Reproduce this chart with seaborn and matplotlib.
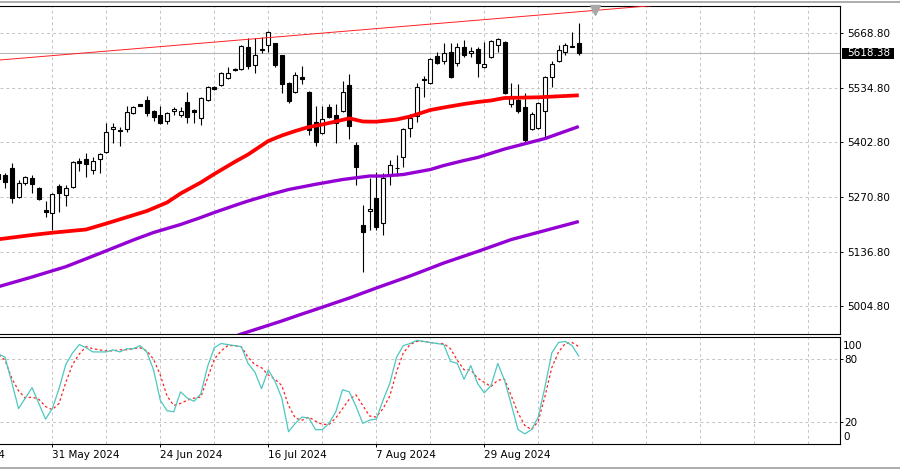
import numpy as np
import pandas as pd
import matplotlib
matplotlib.use("Agg")
import matplotlib.pyplot as plt
from matplotlib.patches import Rectangle
from matplotlib.lines import Line2D
import seaborn as sns

# ---------------- data ----------------
opens = [5325.5, 5321.9, 5340.1, 5269.6, 5303.6, 5315.8, 5291.5, 5238.0, 5230.8, 5296.3,
         5274.5, 5293.9, 5357.1, 5361.9, 5335.2, 5361.9, 5379.0, 5434.8, 5433.6, 5434.8,
         5473.7, 5494.4, 5505.3, 5478.6, 5468.9, 5454.3, 5478.6, 5468.9, 5500.4, 5481.0,
         5461.6, 5505.3, 5535.7, 5541.7, 5558.7, 5581.8, 5580.6, 5634.1, 5590.3, 5630.4,
         5638.9, 5643.8, 5614.6, 5546.6, 5524.7, 5560.0, 5524.7, 5451.8, 5425.1, 5488.3,
         5468.9, 5478.6, 5541.7, 5396.0, 5201.6, 5236.8, 5267.2, 5206.5, 5323.1, 5341.3,
         5366.8, 5437.3, 5466.4, 5557.5, 5546.6, 5612.2, 5600.0, 5621.9, 5595.2, 5634.1,
         5619.5, 5629.2, 5585.5, 5609.8, 5638.9, 5646.2, 5495.6, 5505.3, 5488.3, 5434.8,
         5437.3, 5478.6, 5561.2, 5600.0, 5621.9, 5635.3, 5643.8]
closes = [5313.4, 5304.9, 5267.2, 5303.6, 5318.2, 5301.2, 5264.8, 5233.2, 5276.9, 5279.3,
          5291.5, 5354.7, 5352.2, 5349.8, 5357.1, 5374.1, 5427.5, 5439.7, 5431.2, 5476.1,
          5488.3, 5491.9, 5473.7, 5464.0, 5449.4, 5473.7, 5483.4, 5478.6, 5464.0, 5476.1,
          5510.2, 5536.9, 5533.2, 5570.9, 5570.9, 5579.4, 5636.5, 5587.9, 5614.6, 5628.0,
          5670.5, 5590.3, 5544.2, 5502.9, 5566.0, 5557.5, 5432.4, 5403.3, 5459.1, 5464.0,
          5449.4, 5524.7, 5442.1, 5342.5, 5184.6, 5239.3, 5196.7, 5315.8, 5347.4, 5338.9,
          5434.8, 5461.6, 5536.9, 5555.1, 5604.9, 5595.2, 5619.5, 5561.2, 5634.1, 5614.6,
          5624.3, 5595.2, 5592.8, 5648.6, 5653.5, 5522.3, 5515.0, 5478.6, 5408.1, 5471.3,
          5498.0, 5561.2, 5592.8, 5626.8, 5638.9, 5637.7, 5618.38]
highs = [5335.2, 5327.9, 5352.2, 5310.9, 5320.6, 5323.1, 5293.9, 5259.9, 5279.3, 5301.2,
         5298.8, 5357.1, 5364.4, 5376.5, 5366.8, 5376.5, 5449.4, 5449.4, 5439.7, 5490.7,
         5490.7, 5495.6, 5515.0, 5481.0, 5490.7, 5476.1, 5488.3, 5488.3, 5524.7, 5483.4,
         5512.6, 5539.3, 5539.3, 5573.3, 5585.5, 5583.0, 5638.9, 5655.9, 5655.9, 5658.4,
         5672.9, 5643.8, 5614.6, 5549.0, 5573.3, 5587.9, 5527.2, 5490.7, 5490.7, 5495.6,
         5495.6, 5551.5, 5568.5, 5403.3, 5250.2, 5315.8, 5330.4, 5327.9, 5359.5, 5371.7,
         5437.3, 5471.3, 5546.6, 5563.6, 5607.3, 5621.9, 5643.8, 5643.8, 5643.8, 5651.1,
         5634.1, 5634.1, 5646.2, 5651.1, 5655.9, 5648.6, 5546.6, 5544.2, 5522.3, 5476.1,
         5500.4, 5563.6, 5600.0, 5638.9, 5643.8, 5670.5, 5691.2]
lows = [5303.6, 5291.5, 5255.0, 5267.2, 5298.8, 5279.3, 5262.3, 5221.0, 5189.4, 5233.2,
        5247.8, 5291.5, 5332.8, 5318.2, 5325.5, 5327.9, 5376.5, 5400.8, 5393.5, 5427.5,
        5471.3, 5490.7, 5466.4, 5454.3, 5447.0, 5447.0, 5468.9, 5464.0, 5449.4, 5449.4,
        5444.6, 5502.9, 5529.6, 5539.3, 5556.3, 5575.8, 5578.2, 5580.6, 5570.9, 5619.5,
        5621.9, 5585.5, 5522.3, 5498.0, 5522.3, 5544.2, 5420.3, 5393.5, 5422.7, 5461.6,
        5400.8, 5476.1, 5410.5, 5298.8, 5087.4, 5189.4, 5189.4, 5177.3, 5298.8, 5320.6,
        5342.5, 5415.4, 5451.8, 5512.6, 5544.2, 5592.8, 5592.8, 5558.7, 5587.9, 5609.8,
        5609.8, 5561.2, 5583.0, 5607.3, 5621.9, 5519.9, 5488.3, 5473.7, 5400.8, 5432.4,
        5434.8, 5415.4, 5536.9, 5597.6, 5614.6, 5634.1, 5614.6]

# moving averages (bar index, value)
ma_red_idx = [0, 5, 8, 13, 16, 22, 25, 27, 30, 32, 35, 37, 40, 42, 44, 46, 48, 50, 52, 54,
              56, 59, 61, 64, 66, 69, 71, 73, 75, 80, 86]
ma_red = [5166.9, 5177.3, 5182.9, 5190.7, 5205.2, 5235.6, 5256.3, 5278.1, 5304.9, 5325.5,
          5354.7, 5372.9, 5405.7, 5419.0, 5430.0, 5439.7, 5445.8, 5453.1, 5460.8, 5453.1,
          5452.6, 5457.9, 5465.2, 5481.0, 5487.1, 5495.6, 5500.4, 5504.1, 5510.2, 5511.9,
          5516.7]
ma_mid_idx = [0, 5, 10, 15, 20, 23, 27, 30, 32, 35, 37, 40, 43, 47, 51, 55, 57, 60, 64,
              66, 69, 71, 75, 81, 86]
ma_mid = [5051.7, 5075.3, 5100.3, 5132.4, 5165.2, 5183.4, 5202.8, 5219.8, 5232.0, 5249.0,
          5259.9, 5274.5, 5287.8, 5300.5, 5312.1, 5320.6, 5320.6, 5324.3, 5336.4, 5346.2,
          5358.3, 5365.6, 5386.2, 5411.7, 5440.9]
ma_low_idx = [34, 36, 42, 45, 47, 52, 56, 61, 66, 71, 76, 81, 86]
ma_low = [4924.6, 4936.8, 4968.4, 4985.4, 4996.3, 5024.2, 5048.5, 5077.7, 5109.3, 5137.2,
          5166.3, 5188.2, 5210.1]

# trend line (two anchor points)
trend_idx = [0, 100]
trend_price = [5602.2, 5738.9]

# stochastic oscillator
stoch_k = [85, 82, 58, 33, 43, 53, 38, 23, 33, 52, 75, 86, 94, 91, 87, 87, 87, 89, 87, 90,
           90, 93, 87, 70, 41, 31, 30, 49, 43, 40, 47, 73, 91, 95, 94, 93, 92, 76, 68, 52,
           70, 59, 43, 11, 19, 25, 24, 13, 13, 19, 30, 51, 49, 35, 19, 22, 23, 41, 57, 82,
           93, 95, 98, 97, 96, 95, 94, 78, 76, 61, 74, 57, 48, 55, 76, 60, 37, 13, 9, 13,
           25, 54, 86, 96, 97, 93, 83]
stoch_d = [85, 79, 62, 50, 43, 44, 42, 35, 32, 38, 58, 75, 85, 92, 90, 89, 88, 88, 89, 89,
           90, 91, 88, 80, 65, 45, 36, 38, 41, 43, 44, 62, 80, 88, 93, 93, 92, 82, 75, 72,
           65, 61, 55, 36, 24, 22, 25, 21, 18, 18, 24, 33, 42, 46, 36, 26, 25, 33, 45, 68,
           86, 94, 97, 97, 96, 95, 95, 90, 79, 70, 70, 62, 58, 54, 60, 61, 45, 29, 17, 13,
           21, 45, 72, 87, 95, 96, 92]

price_ticks = [5004.80, 5136.80, 5270.80, 5402.80, 5534.80, 5668.80]
stoch_ticks = [20, 80]
date_pos = [-8, 8, 24, 40, 56, 72]
date_labels = ["8 May 2024", "31 May 2024", "24 Jun 2024", "16 Jul 2024", "7 Aug 2024", "29 Aug 2024"]
last_price = 5618.38
shift_marker_idx = 88.4

# ---------------- styling ----------------
sns.set_theme(style="white")
plt.rcParams['font.family'] = ['DejaVu Sans']
FS = 7.5
GRID = '#c4c4c4'
DASH = (0, (3, 3))

fig = plt.figure(figsize=(9, 4.7), dpi=100)
fig.patch.set_facecolor('white')
W, H = 900.0, 470.0
ax = fig.add_axes([0, 1 - 334 / H, 840 / W, 328 / H])
ax2 = fig.add_axes([0, 1 - 443.5 / H, 840 / W, 106.5 / H])

bars = np.arange(len(opens))
o = np.array(opens); c = np.array(closes); h = np.array(highs); l = np.array(lows)

XL = (0.252, 124.7)
for a in (ax, ax2):
    a.set_xlim(*XL)
    a.set_facecolor('white')
    for g in range(8, 125, 8):
        a.axvline(g, color=GRID, lw=0.7, ls=DASH, zorder=0)
ax.set_ylim(4936.8, 5733.7)
ax2.set_ylim(-0.2, 101.2)

for v in price_ticks:
    ax.axhline(v, color=GRID, lw=0.7, ls=DASH, zorder=0)
for v in stoch_ticks:
    ax2.axhline(v, color=GRID, lw=0.7, ls=DASH, zorder=0)

# current price line
ax.axhline(last_price, color='#b8b8b8', lw=0.8, zorder=1)

# candles
ax.vlines(bars, l, h, color='black', lw=0.8, zorder=2)
bull = c >= o
face = np.where(bull, 'white', 'black')
ax.bar(bars, np.abs(c - o), bottom=np.minimum(o, c), width=0.6, color=face,
       edgecolor='black', linewidth=0.8, zorder=3)

# moving averages and trend line
line_kw = dict(legend=False, solid_joinstyle='round', solid_capstyle='butt')
sns.lineplot(x=ma_low_idx, y=ma_low, ax=ax, color='#9400D3', lw=2.4, zorder=4, **line_kw)
sns.lineplot(x=ma_mid_idx, y=ma_mid, ax=ax, color='#9400D3', lw=2.4, zorder=4, **line_kw)
sns.lineplot(x=ma_red_idx, y=ma_red, ax=ax, color='#ff0000', lw=2.7, zorder=5, **line_kw)
sns.lineplot(x=trend_idx, y=trend_price, ax=ax, color='#ff2020', lw=0.7, zorder=5, legend=False)

# shift marker
ax.plot([shift_marker_idx], [0.989], marker='v', ms=7, color='#a8a8a8',
        transform=ax.get_xaxis_transform(), clip_on=False, zorder=6)

# stochastic
sns.lineplot(x=bars, y=stoch_d, ax=ax2, color='#ff2020', lw=0.9, ls=(0, (2, 2)), zorder=3, legend=False)
sns.lineplot(x=bars, y=stoch_k, ax=ax2, color='#4cc8bf', lw=0.9, zorder=4, legend=False)

# axes cosmetics
for a in (ax, ax2):
    a.spines['left'].set_visible(False)
    for s in ('top', 'right', 'bottom'):
        a.spines[s].set_color('black')
        a.spines[s].set_linewidth(0.8)
    a.set_xlabel('')
    a.set_ylabel('')
    a.yaxis.tick_right()
    a.grid(False)

ax.set_yticks(price_ticks)
ax.set_yticklabels([f"{v:.2f}" for v in price_ticks])
ax.tick_params(axis='y', right=True, left=False, direction='out', length=2.2, width=0.7,
               pad=2.7, labelsize=FS, colors='black')
ax.tick_params(axis='x', bottom=False, labelbottom=False)

ax2.set_yticks(stoch_ticks)
ax2.set_yticklabels([str(v) for v in stoch_ticks])
ax2.tick_params(axis='y', right=True, left=False, direction='out', length=2.2, width=0.7,
                pad=0.6, labelsize=FS, colors='black')
ax2.text(1.0 + 3.3 / 840, 93, "100", transform=ax2.get_yaxis_transform(), va='center',
         ha='left', fontsize=FS, color='black', clip_on=False)
ax2.text(1.0 + 3.3 / 840, 6.3, "0", transform=ax2.get_yaxis_transform(), va='center',
         ha='left', fontsize=FS, color='black', clip_on=False)

vis = [(p, t) for p, t in zip(date_pos, date_labels) if XL[0] <= p <= XL[1]]
ax2.set_xticks([p for p, _ in vis])
ax2.set_xticklabels([t for _, t in vis], ha='left')
ax2.tick_params(axis='x', bottom=True, direction='out', length=2.2, width=0.7, pad=2.5,
                labelsize=FS, colors='black')
for p, t in zip(date_pos, date_labels):
    if p < XL[0]:
        ax2.text(p, -6.5 / 106.5, t, transform=ax2.get_xaxis_transform(), ha='left',
                 va='top', fontsize=FS, color='black', clip_on=False)

# current price label box
ax.add_patch(Rectangle((1.0 + 1.7 / 840, last_price - 5.8 * 2.4296), 52.3 / 840, 11.6 * 2.4296,
                       transform=ax.get_yaxis_transform(), facecolor='black', edgecolor='none',
                       clip_on=False, zorder=7))
ax.text(1.0 + 6.7 / 840, last_price, f"{last_price:.2f}", transform=ax.get_yaxis_transform(),
        va='center', ha='left', fontsize=FS, color='white', clip_on=False, zorder=8)

# window border lines
fig.add_artist(Line2D([0, 1], [1 - 1.5 / H] * 2, color='#a0a0a0', lw=1.2, transform=fig.transFigure))
fig.add_artist(Line2D([0, 1], [1 - 467.5 / H] * 2, color='#a0a0a0', lw=1.2, transform=fig.transFigure))

fig.savefig("out.png", dpi=100, facecolor='white')
